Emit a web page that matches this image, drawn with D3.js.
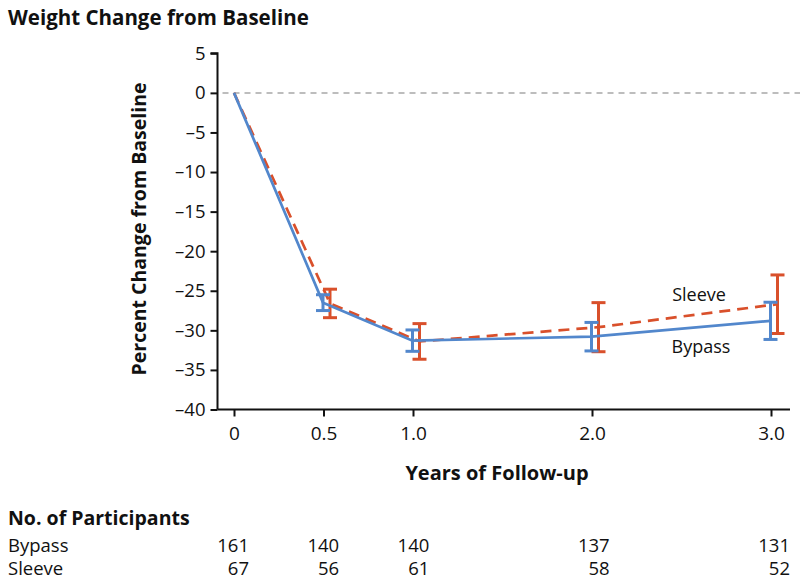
<!DOCTYPE html>
<html>
<head>
<meta charset="utf-8">
<script src="https://cdn.jsdelivr.net/npm/d3@7"></script>
<style>
  body { margin: 0; background: #fff; }
  svg { display: block; font-family: "Open Sans", "DejaVu Sans", sans-serif; }
</style>
</head>
<body>
<svg id="chart" width="800" height="585"></svg>
<script>
// ---- data ----
const years = [0, 0.5, 1.0, 2.0, 3.0];
const xTickLabels = ["0", "0.5", "1.0", "2.0", "3.0"];
const yTicks = [5, 0, -5, -10, -15, -20, -25, -30, -35, -40];
const bypassMean = [0, -26.5, -31.3, -30.8, -28.8];
const bypassErr  = [0, 1.0, 1.35, 1.8, 2.35];
const sleeveMean = [0, -26.6, -31.4, -29.6, -26.7];
const sleeveErr  = [0, 1.8, 2.25, 3.1, 3.7];
const bypassN = [161, 140, 140, 137, 131];
const sleeveN = [67, 56, 61, 58, 52];

const svg = d3.select("#chart");
const blue = "#5287cc";
const red = "#d9502b";
const ink = "#111";

const x = d3.scaleLinear().domain([0, 3]).range([234, 771]);
const y = d3.scaleLinear().domain([-40, 5]).range([409.5, 53.3]);
const xt = d3.scaleLinear().domain([0, 3]).range([249, 790]); // table columns (right edges)
const axisX0 = 217.5, axisY0 = 409.5;

// title
svg.append("text").attr("x", 8).attr("y", 25)
  .attr("font-size", 20.5).attr("font-weight", 700).attr("fill", ink)
  .text("Weight Change from Baseline");

// zero reference line
svg.append("line")
  .attr("x1", axisX0 + 5).attr("x2", 800)
  .attr("y1", y(0)).attr("y2", y(0))
  .attr("stroke", "#a8a8a8").attr("stroke-width", 1.5)
  .attr("stroke-dasharray", "6,5");

// y axis
const yAxis = d3.axisLeft(y).tickValues(yTicks).tickSize(7).tickPadding(5)
  .tickFormat(d => d < 0 ? "\u2013" + Math.abs(d) : String(d));
const gy = svg.append("g").attr("transform", `translate(${axisX0},0)`).call(yAxis);
gy.select(".domain").attr("d", `M-7,${y(5)}H0V${axisY0}`).attr("stroke", ink).attr("stroke-width", 2);
gy.selectAll(".tick line").attr("stroke", ink).attr("stroke-width", 2);
gy.selectAll(".tick text").attr("font-size", 18.5).attr("fill", ink)
  .attr("font-family", "'Open Sans', sans-serif");

// x axis
const xAxis = d3.axisBottom(x).tickValues(years).tickSize(7).tickPadding(10)
  .tickFormat((d, i) => xTickLabels[i]);
const gx = svg.append("g").attr("transform", `translate(0,${axisY0})`).call(xAxis);
gx.select(".domain").attr("d", `M${axisX0},0H790`).attr("stroke", ink).attr("stroke-width", 2);
gx.selectAll(".tick line").attr("stroke", ink).attr("stroke-width", 2);
gx.selectAll(".tick text").attr("font-size", 19).attr("fill", ink)
  .attr("font-family", "'Open Sans', sans-serif");

// axis titles
svg.append("text")
  .attr("transform", `translate(146,229) rotate(-90)`)
  .attr("text-anchor", "middle")
  .attr("font-size", 19.5).attr("font-weight", 700).attr("fill", ink)
  .text("Percent Change from Baseline");
svg.append("text").attr("x", 497).attr("y", 480)
  .attr("text-anchor", "middle")
  .attr("font-size", 20).attr("font-weight", 700).attr("fill", ink)
  .text("Years of Follow-up");

// series
function drawSeries(means, errs, color, dx, dashed) {
  const pts = years.map((yr, i) => ({ yr, m: means[i], e: errs[i] }));
  const line = d3.line().x(d => x(d.yr) + (d.yr === 0 ? 0 : dx)).y(d => y(d.m));
  svg.append("path").datum(pts).attr("d", line)
    .attr("fill", "none").attr("stroke", color).attr("stroke-width", 2.7)
    .attr("stroke-dasharray", dashed ? "11,7" : null);
  const eb = svg.append("g").attr("stroke", color).attr("stroke-width", 3);
  pts.filter(d => d.e > 0).forEach(d => {
    const cx = x(d.yr) + dx;
    eb.append("line").attr("x1", cx).attr("x2", cx).attr("y1", y(d.m + d.e)).attr("y2", y(d.m - d.e));
    eb.append("line").attr("x1", cx - 7).attr("x2", cx + 7).attr("y1", y(d.m + d.e)).attr("y2", y(d.m + d.e));
    eb.append("line").attr("x1", cx - 7).attr("x2", cx + 7).attr("y1", y(d.m - d.e)).attr("y2", y(d.m - d.e));
  });
}
drawSeries(sleeveMean, sleeveErr, red, 6.5, true);
drawSeries(bypassMean, bypassErr, blue, -0.5, false);

// series labels
svg.append("text").attr("x", 699).attr("y", 301).attr("text-anchor", "middle")
  .attr("font-size", 18).attr("fill", ink).text("Sleeve");
svg.append("text").attr("x", 701).attr("y", 353).attr("text-anchor", "middle")
  .attr("font-size", 18).attr("fill", ink).text("Bypass");

// participants table
svg.append("text").attr("x", 8).attr("y", 525)
  .attr("font-size", 19.5).attr("font-weight", 700).attr("fill", ink)
  .text("No. of Participants");
const rows = [{ name: "Bypass", vals: bypassN, yy: 552 }, { name: "Sleeve", vals: sleeveN, yy: 575 }];
rows.forEach(r => {
  svg.append("text").attr("x", 8).attr("y", r.yy).attr("font-size", 18.5).attr("fill", ink).text(r.name);
  svg.selectAll(null).data(r.vals).enter().append("text")
    .attr("x", (d, i) => xt(years[i])).attr("y", r.yy)
    .attr("text-anchor", "end").attr("font-size", 18.5).attr("fill", ink)
    .text(d => d);
});
</script>
</body>
</html>
